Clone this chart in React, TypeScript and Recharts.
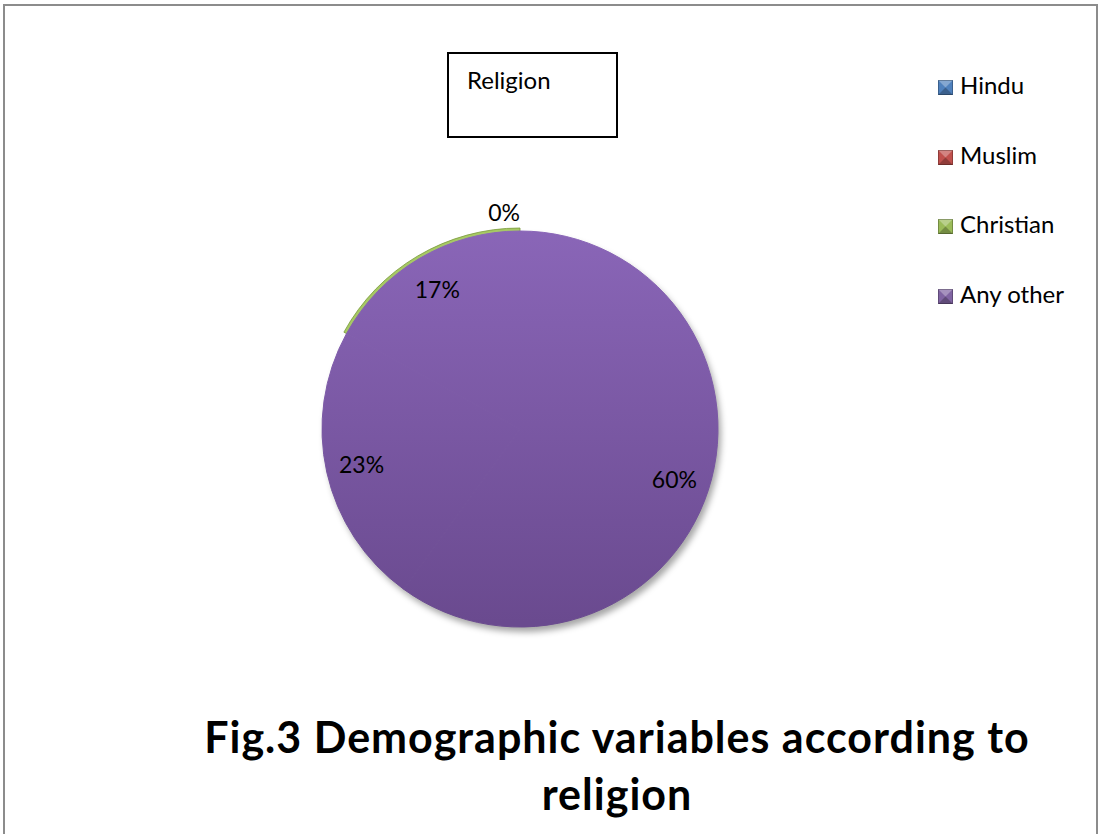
import React from "react";
import { PieChart, Pie, Cell, Legend } from "recharts";

const religions = ["Hindu", "Muslim", "Christian", "Any other"];
const shares = [60, 23, 17, 0];
const legendColors = ["#4f81bd", "#c0504d", "#9bbb59", "#8064a2"];

const data = religions.map((name, i) => ({ name, value: shares[i] }));

const FONT = "Lato, 'Noto Sans', sans-serif";
const CX = 515;
const CY = 424;
const R = 198;
const RAD = Math.PI / 180;

function renderLabel(props: any) {
  const { cx, cy, midAngle, outerRadius, value } = props;
  const zero = value === 0;
  const r = zero ? outerRadius + 19 : outerRadius * 0.82;
  const x = cx + r * Math.cos(-midAngle * RAD);
  const y = cy + r * Math.sin(-midAngle * RAD);
  return (
    <text
      x={x}
      y={y}
      textAnchor={zero ? "end" : "middle"}
      dominantBaseline="central"
      fontFamily={FONT}
      fontSize={23}
      fill="#000"
    >
      {`${value}%`}
    </text>
  );
}

function LegendMarker({ color, x, y }: { color: string; x: number; y: number }) {
  const s = 15;
  return (
    <svg width={s} height={s} style={{ position: "absolute", left: x, top: y }}>
      <rect x={0} y={0} width={s} height={s} fill={color} />
      <polygon points={`0,0 ${s},0 ${s / 2},${s / 2}`} fill="#fff" opacity={0.3} />
      <polygon points={`0,${s} ${s},${s} ${s / 2},${s / 2}`} fill="#000" opacity={0.25} />
      <rect x={0.5} y={0.5} width={s - 1} height={s - 1} fill="none" stroke="#000" strokeOpacity={0.25} />
    </svg>
  );
}

function ReligionLegend() {
  return (
    <div style={{ position: "relative", width: 170, height: 260 }}>
      {religions.map((name, i) => (
        <div key={name}>
          <LegendMarker color={legendColors[i]} x={8} y={Math.round(10 + i * 69.5)} />
          <span
            style={{
              position: "absolute",
              left: 30,
              top: Math.round(3 + i * 69.5),
              fontFamily: FONT,
              fontSize: 24,
              lineHeight: "24px",
              color: "#000",
              whiteSpace: "nowrap",
            }}
          >
            {name}
          </span>
        </div>
      ))}
    </div>
  );
}

export default function App() {
  return (
    <div
      style={{
        position: "absolute",
        left: 0,
        top: 0,
        width: 1099,
        height: 834,
        background: "#fff",
        overflow: "hidden",
      }}
    >
      {/* chart area frame, open at the bottom */}
      <div
        style={{
          position: "absolute",
          left: 3,
          top: 4,
          width: 1091,
          height: 850,
          border: "2px solid #8c8c8c",
        }}
      />
      <PieChart width={1099} height={834} style={{ position: "absolute", left: 0, top: 0 }}>
        <defs>
          <linearGradient id="sliceFill" gradientUnits="userSpaceOnUse" x1={0} y1={CY - R} x2={0} y2={CY + R}>
            <stop offset="0%" stopColor="#8a66b8" />
            <stop offset="100%" stopColor="#6a4a8f" />
          </linearGradient>
          <filter id="pieShadow" x="-20%" y="-20%" width="140%" height="140%">
            <feGaussianBlur stdDeviation="3" />
          </filter>
        </defs>
        {/* soft shadow under the pie */}
        <Pie
          data={data}
          dataKey="value"
          nameKey="name"
          cx={CX + 3}
          cy={CY + 5}
          outerRadius={R}
          startAngle={90}
          endAngle={-270}
          stroke="none"
          isAnimationActive={false}
          legendType="none"
        >
          {data.map((_, i) => (
            <Cell key={i} fill="#000" fillOpacity={0.35} filter="url(#pieShadow)" />
          ))}
        </Pie>
        {/* thin rim on the Christian slice */}
        <Pie
          data={data}
          dataKey="value"
          nameKey="name"
          cx={CX}
          cy={CY}
          innerRadius={R - 4}
          outerRadius={R + 3}
          startAngle={90}
          endAngle={-270}
          isAnimationActive={false}
          legendType="none"
        >
          {data.map((d, i) => (
            <Cell
              key={i}
              fill={d.name === "Christian" ? "#a6c865" : "none"}
              stroke={d.name === "Christian" ? "#7a9a3a" : "none"}
              strokeWidth={0.8}
            />
          ))}
        </Pie>
        <Pie
          data={data}
          dataKey="value"
          nameKey="name"
          cx={CX}
          cy={CY}
          outerRadius={R}
          startAngle={90}
          endAngle={-270}
          label={renderLabel}
          labelLine={false}
          isAnimationActive={false}
        >
          {data.map((_, i) => (
            <Cell key={i} fill="url(#sliceFill)" stroke="url(#sliceFill)" strokeWidth={1} />
          ))}
        </Pie>
        <Legend
          layout="vertical"
          align="right"
          verticalAlign="top"
          content={() => <ReligionLegend />}
          wrapperStyle={{ position: "absolute", left: 930, top: 70, width: 170 }}
        />
      </PieChart>
      {/* series name box */}
      <div
        style={{
          position: "absolute",
          left: 447,
          top: 52,
          width: 167,
          height: 82,
          border: "2px solid #000",
          fontFamily: FONT,
          fontSize: 24,
          lineHeight: "24px",
          color: "#000",
        }}
      >
        <div style={{ position: "absolute", left: 18, top: 14 }}>Religion</div>
      </div>
      <div
        style={{
          position: "absolute",
          left: 187,
          top: 708,
          width: 860,
          textAlign: "center",
          fontFamily: FONT,
          fontWeight: 700,
          fontSize: 43,
          letterSpacing: 1,
          lineHeight: "57px",
          color: "#000",
        }}
      >
        Fig.3 Demographic variables according to religion
      </div>
    </div>
  );
}
